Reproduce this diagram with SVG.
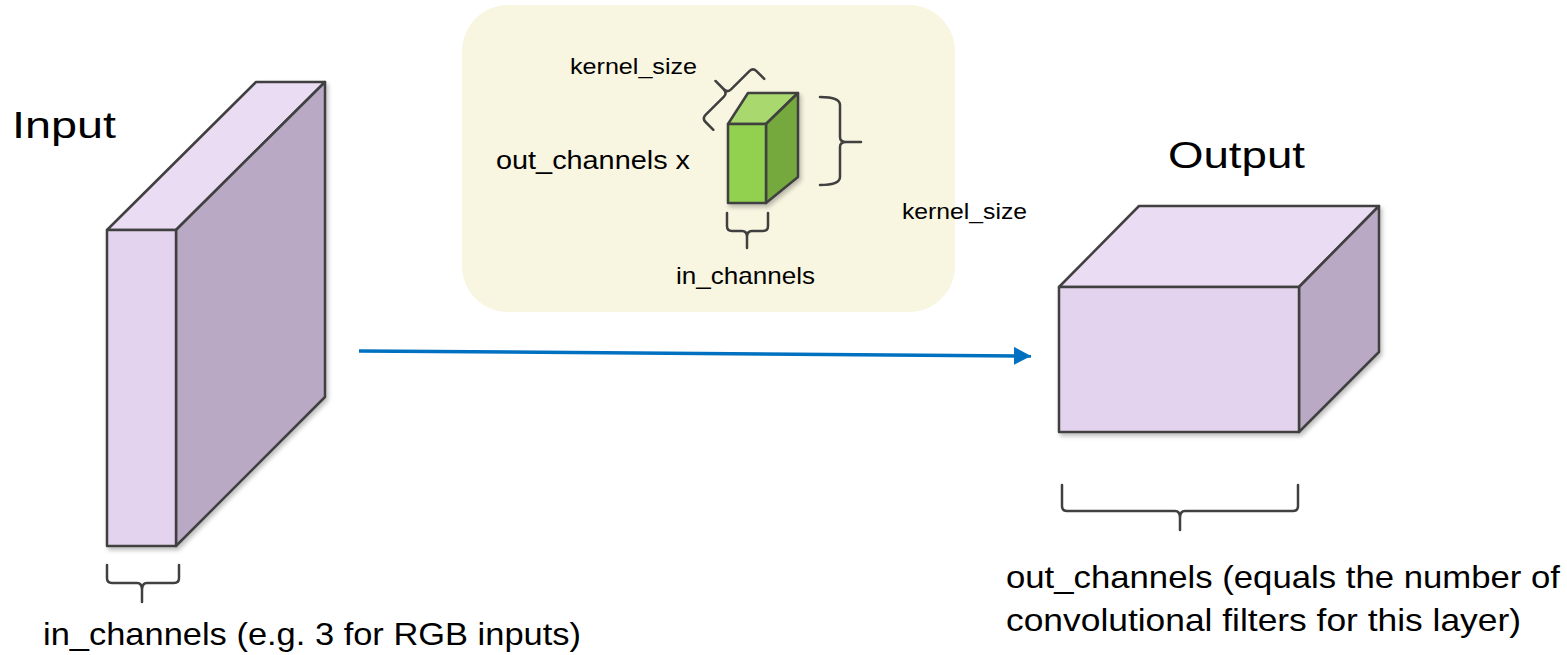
<svg xmlns="http://www.w3.org/2000/svg" width="1567" height="655" viewBox="0 0 1567 655">
<defs>
<style>
.t{font-family:"Liberation Sans","Open Sans",sans-serif;fill:#000}
.e{stroke:#404040;stroke-width:2.5;stroke-linejoin:round}
.br{fill:none;stroke:#404040;stroke-width:2.5;stroke-linecap:round;stroke-linejoin:round}
.ff{fill:#e4d3ef}.tf{fill:#eadcf3}.sf{fill:#b9a9c4}
</style>
<filter id="sh" x="-10%" y="-10%" width="130%" height="130%">
<feDropShadow dx="2" dy="3" stdDeviation="2" flood-color="#000" flood-opacity="0.25"/>
</filter>
<marker id="ah" markerUnits="userSpaceOnUse" markerWidth="20" markerHeight="20" viewBox="0 0 20 20" refX="17" refY="9" orient="auto">
<path d="M0,0 L17,9 L0,18 Z" fill="#0070c0"/>
</marker>
</defs>
<rect width="1567" height="655" fill="#fff"/>

<g id="kernel-panel">
<rect x="462" y="5" width="493" height="307" rx="46" fill="#f8f5e1"/>
</g>

<g id="input-node">
<g filter="url(#sh)">
<polygon class="e tf" points="107,230 256,82 325,82 176,230"/>
<polygon class="e sf" points="176,230 325,82 325,397 176,546"/>
<rect class="e ff" x="107" y="230" width="69" height="316"/>
</g>
<text class="t" x="12" y="138" font-size="36" textLength="104" lengthAdjust="spacingAndGlyphs">Input</text>
<path class="br" d="M107,565 V578 Q107,583 112,583 H137 Q142,583 142,590 V602 M142,590 Q142,583 147,583 H174 Q179,583 179,578 V565"/>
<text class="t" x="43" y="645" font-size="32" textLength="538" lengthAdjust="spacingAndGlyphs">in_channels (e.g. 3 for RGB inputs)</text>
</g>

<g id="kernel-node">
<g filter="url(#sh)">
<polygon class="e" fill="#a9d86e" points="728,124 748,93 798,93 766,124"/>
<polygon class="e" fill="#75a83e" points="766,124 798,93 798,177 766,203"/>
<rect class="e" fill="#92d050" x="728" y="124" width="38" height="79"/>
</g>
<text class="t" x="570" y="74" font-size="22" textLength="127" lengthAdjust="spacingAndGlyphs">kernel_size</text>
<path class="br" transform="translate(727.5,93) rotate(-45)" d="M-36,16 V5 Q-36,0 -31,0 H-5 Q0,0 0,-6 V-17 M0,-6 Q0,0 5,0 H31 Q36,0 36,5 V16"/>
<text class="t" x="496" y="169" font-size="26" textLength="194" lengthAdjust="spacingAndGlyphs">out_channels x</text>
<path class="br" d="M820,97 Q840,97 840,105 V137 Q840,142 846,142 H861 M846,142 Q840,142 840,147 V177 Q840,185 820,185"/>
<text class="t" x="902" y="219" font-size="22" textLength="125" lengthAdjust="spacingAndGlyphs">kernel_size</text>
<path class="br" d="M727,213 V226 Q727,231 732,231 H742 Q747,231 747,237 V248 M747,237 Q747,231 752,231 H763 Q768,231 768,226 V213"/>
<text class="t" x="676" y="284" font-size="24" textLength="139" lengthAdjust="spacingAndGlyphs">in_channels</text>
</g>

<g id="output-node">
<g filter="url(#sh)">
<polygon class="e tf" points="1059,287 1139,206 1379,206 1299,287"/>
<polygon class="e sf" points="1299,287 1379,206 1379,352 1299,432"/>
<rect class="e ff" x="1059" y="287" width="240" height="145"/>
</g>
<text class="t" x="1168" y="168" font-size="36" textLength="137" lengthAdjust="spacingAndGlyphs">Output</text>
<path class="br" d="M1062,485 V506 Q1062,511 1067,511 H1175 Q1180,511 1180,518 V530 M1180,518 Q1180,511 1185,511 H1293 Q1298,511 1298,506 V485"/>
<text class="t" x="1006" y="588" font-size="32" textLength="554" lengthAdjust="spacingAndGlyphs">out_channels (equals the number of</text>
<text class="t" x="1006" y="631" font-size="32" textLength="515" lengthAdjust="spacingAndGlyphs">convolutional filters for this layer)</text>
</g>

<g id="connectors">
<line x1="359" y1="351" x2="1031" y2="356" stroke="#0070c0" stroke-width="3.5" marker-end="url(#ah)"/>
</g>
</svg>
